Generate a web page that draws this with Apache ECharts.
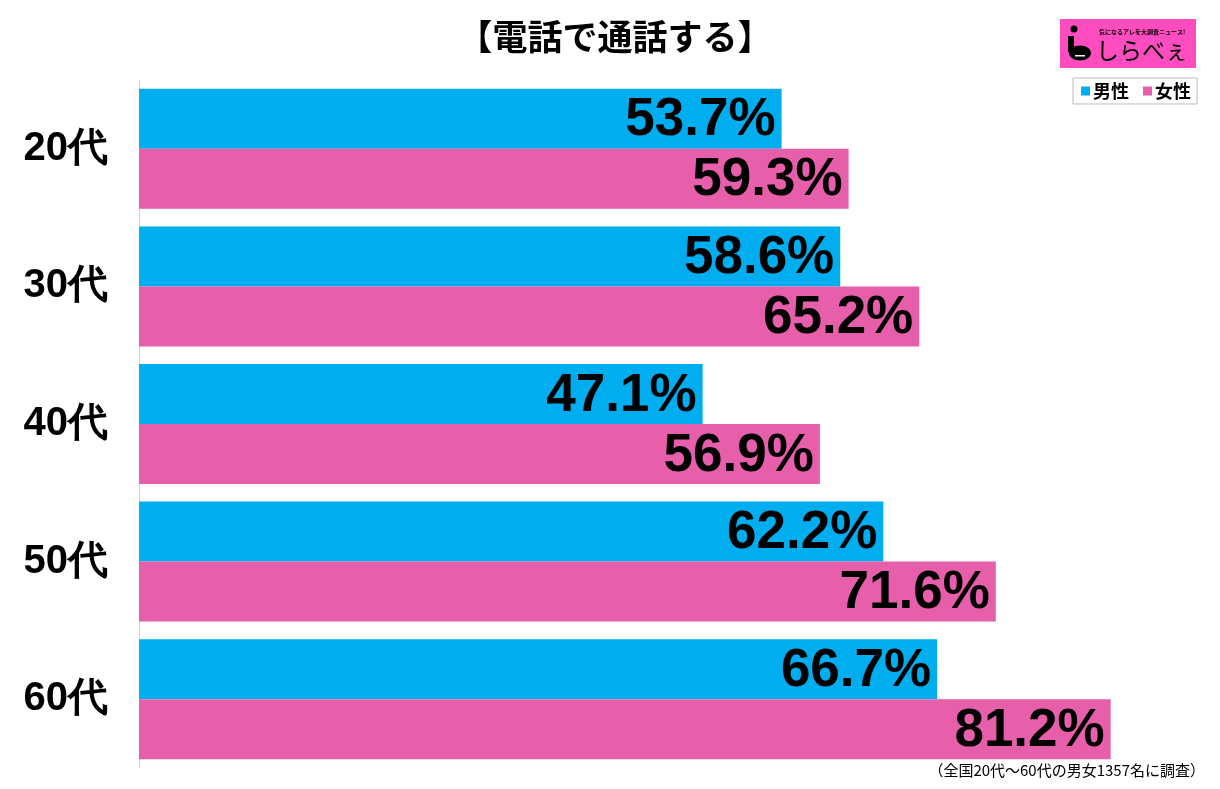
<!DOCTYPE html>
<html><head><meta charset="utf-8">
<script src="https://cdn.jsdelivr.net/npm/echarts@6/dist/echarts.min.js"></script>
<style>html,body{margin:0;padding:0;background:#fff}#c{width:1220px;height:789px}</style>
</head><body><div id="c"></div>
<script>
const categories = ['20代','30代','40代','50代','60代'];
const male = [53.7, 58.6, 47.1, 62.2, 66.7];
const female = [59.3, 65.2, 56.9, 71.6, 81.2];
const seriesNames = ['男性','女性'];
const titleText = '【電話で通話する】';
const footText = '（全国20代～60代の男女1357名に調査）';

const FONT = '"Noto Sans CJK JP", sans-serif';
const chart = echarts.init(document.getElementById('c'));
const lbl = {
  show: true, position: 'insideRight', offset: [-1, 2],
  formatter: p => p.value.toFixed(1) + '%',
  color: '#000', fontSize: 53, fontWeight: 'bold', fontFamily: '"Liberation Sans", Arial, sans-serif'
};
chart.setOption({
  animation: false,
  title: { text: titleText, left: 610, textAlign: 'center', top: 14,
    textStyle: { fontSize: 35, fontWeight: 'bold', color: '#000', fontFamily: FONT } },
  legend: { data: seriesNames, right: 23, top: 78, icon: 'rect', itemWidth: 9, itemHeight: 9, itemGap: 14, itemWidth: 9,
    borderColor: '#bbb', borderWidth: 1, padding: [4, 6, 4, 8],
    textStyle: { fontSize: 18, fontWeight: 'bold', color: '#000', fontFamily: FONT, padding: [0, 0, 0, -2] } },
  grid: { left: 139, top: 80, width: 1077, height: 688, containLabel: false },
  xAxis: { type: 'value', min: 0, max: 90, show: false },
  yAxis: { type: 'category', data: categories, inverse: true,
    axisLine: { show: true, lineStyle: { color: '#d0d0d0', width: 1 } },
    axisTick: { show: false },
    axisLabel: { fontSize: 40, color: '#000', fontWeight: 'bold', fontFamily: '"Liberation Sans", Arial, sans-serif', margin: 31 } },
  series: [
    { name: seriesNames[0], type: 'bar', data: male, barWidth: 60, barGap: '0%', itemStyle: { color: '#00AEEF' }, label: lbl },
    { name: seriesNames[1], type: 'bar', data: female, barWidth: 60, barGap: '0%', itemStyle: { color: '#E75FAA' }, label: lbl }
  ],
  graphic: [
    { type: 'rect', shape: { x: 1060, y: 19, width: 136, height: 49 }, style: { fill: '#FF4DBF' } },
    { type: 'circle', shape: { cx: 1074, cy: 29, r: 3.5 }, style: { fill: '#000' } },
    { type: 'rect', shape: { x: 1068, y: 36, width: 6, height: 16 }, style: { fill: '#000' } },
    { type: 'ellipse', shape: { cx: 1080, cy: 53, rx: 11, ry: 7.5 }, style: { fill: '#000' } },
    { type: 'rect', shape: { x: 1075, y: 55, width: 10, height: 1.5 }, style: { fill: '#fff' } },
    { type: 'text', x: 1142, y: 32, style: { text: '気になるアレを大調査ニュース!', fontSize: 6, fill: '#000', align: 'center', verticalAlign: 'middle', fontFamily: FONT, fontWeight: 'bold' } },
    { type: 'text', x: 1096, y: 50, style: { text: 'しらべぇ', fontSize: 23, fill: '#000', align: 'left', verticalAlign: 'middle', fontFamily: FONT } },
    { type: 'text', x: 1205, y: 770, style: { text: footText, fontSize: 15, fill: '#000', align: 'right', verticalAlign: 'middle', fontFamily: FONT } }
  ]
});
</script></body></html>
